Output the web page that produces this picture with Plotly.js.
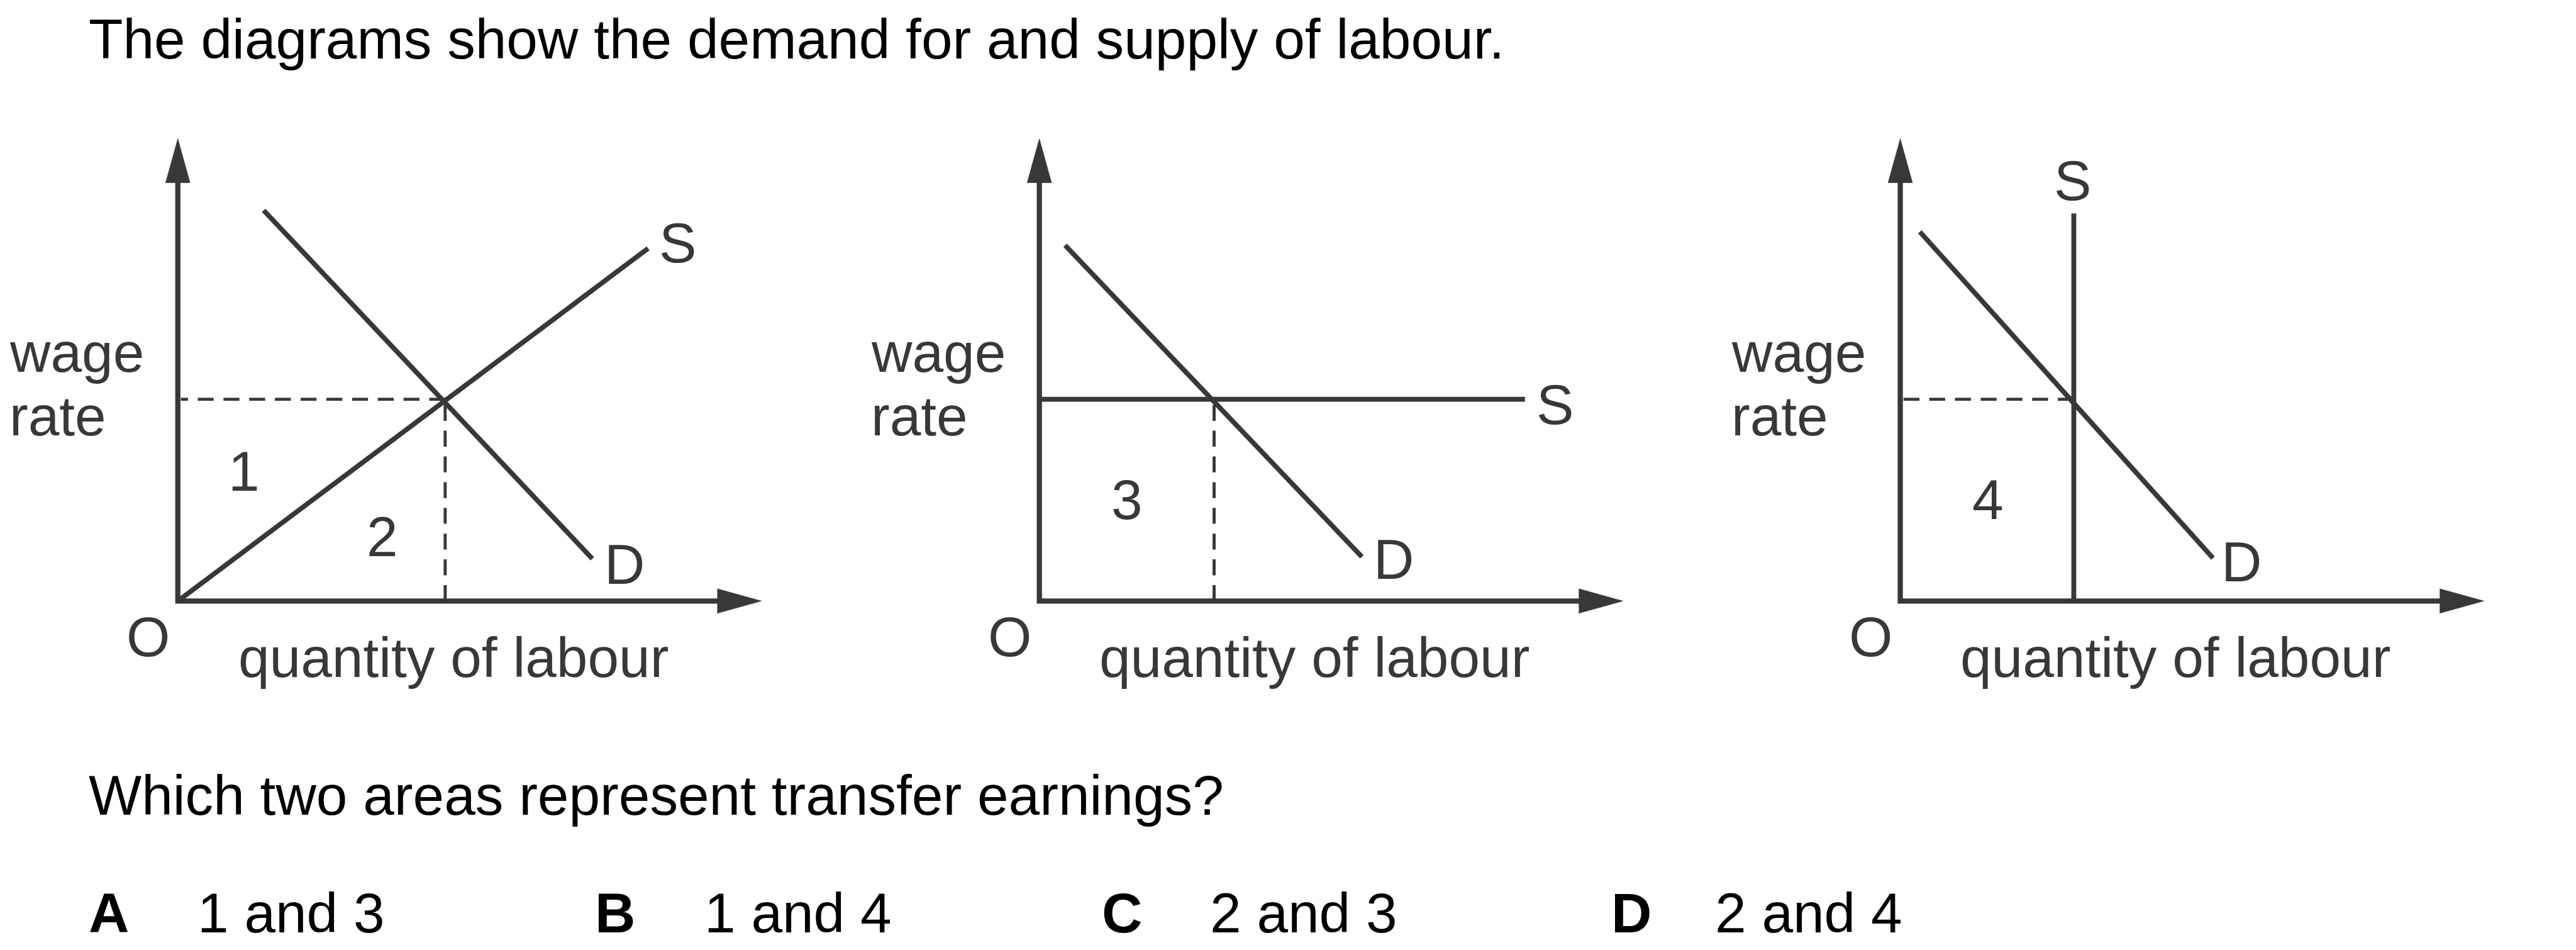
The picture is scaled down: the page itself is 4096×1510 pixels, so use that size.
<!DOCTYPE html>
<html>
<head>
<meta charset="utf-8">
<script src="https://cdn.plot.ly/plotly-3.0.1.min.js"></script>
<style>
  html, body { margin: 0; padding: 0; background: #ffffff; }
  #chart { width: 4096px; height: 1510px; }
</style>
</head>
<body>
<div id="chart"></div>
<script>
// ---------------- text ----------------
const titleText = 'The diagrams show the demand for and supply of labour.';
const questionText = 'Which two areas represent transfer earnings?';
const optionLetters = ['A', 'B', 'C', 'D'];
const optionTexts = ['1 and 3', '1 and 4', '2 and 3', '2 and 4'];
const axisYLabel = ['wage', 'rate'];
const axisXLabel = 'quantity of labour';
const originLabel = 'O';
const areaLabels = ['1', '2', '3', '4'];

// ---------------- data (units: quantity of labour / wage rate) ----------------
const axisQMax = 9.52;   // end of quantity axis (arrow tip)
const axisWMax = 7.54;   // end of wage axis (arrow tip)

// Diagram 1: upward sloping supply
const p1DemandQ = [1.40, 6.76];
const p1DemandW = [6.37, 0.69];
const p1SupplyQ = [0.00, 7.67];
const p1SupplyW = [0.00, 5.75];
const p1EqQ = 4.36;
const p1EqW = 3.29;

// Diagram 2: perfectly elastic supply
const p2DemandQ = [0.42, 5.26];
const p2DemandW = [5.80, 0.72];
const p2SupplyQ = [0.00, 7.92];
const p2SupplyW = [3.29, 3.29];
const p2EqQ = 2.85;
const p2EqW = 3.29;

// Diagram 3: perfectly inelastic supply
const p3DemandQ = [0.32, 5.10];
const p3DemandW = [6.02, 0.70];
const p3SupplyQ = [2.83, 2.83];
const p3SupplyW = [0.00, 6.32];
const p3EqQ = 2.83;
const p3EqW = 3.29;

// label anchor positions (in each diagram's units)
const p1LabelS = [8.16, 5.84], p1LabelD = [7.28, 0.60], p1Area1 = [1.08, 2.12], p1Area2 = [3.34, 1.05];
const p2LabelS = [8.41, 3.20], p2LabelD = [5.78, 0.68], p2Area3 = [1.43, 1.65];
const p3LabelS = [2.82, 6.86], p3LabelD = [5.56, 0.64], p3Area4 = [1.43, 1.65];
const originPos = [-0.48, -0.58];
const wagePos = [-2.77, 4.06];
const ratePos = [-2.77, 3.02];
const qtyPos = [4.49, -0.92];

// ---------------- style ----------------
const S = 0.975;                 // global scale
const FONT = 'Liberation Sans, Arial, Helvetica, sans-serif';
const INK = '#383838';
const FS = 91.5 * S;
const AXIS_W = 8.5 * S;
const CURVE_W = 8 * S;
const DASH_W = 5 * S;
const DASH = (26 * S).toFixed(1) + 'px,' + (16 * S).toFixed(1) + 'px';
const HEAD_LEN = 0.72;
const HEAD_HALF = 0.20;

const REF_W = 4201, REF_H = 1549;
// panel frames in reference pixels
const panels = [
  { xa: 'x',  ya: 'y',  left: 0,    right: 1400, originPx: 290 },
  { xa: 'x2', ya: 'y2', left: 1400, right: 2800, originPx: 1695 },
  { xa: 'x3', ya: 'y3', left: 2800, right: 4200, originPx: 3099 }
];
const frameTopPx = 200, frameBottomPx = 1130, originYPx = 980, unitPx = 100;

const traces = [];
function line(p, xs, ys, width, dash) {
  traces.push({
    type: 'scatter', mode: 'lines', x: xs, y: ys,
    xaxis: p.xa, yaxis: p.ya, hoverinfo: 'skip',
    line: { color: INK, width: width, dash: dash || 'solid' }
  });
}
function poly(p, xs, ys) {
  traces.push({
    type: 'scatter', mode: 'lines', x: xs, y: ys, fill: 'toself',
    fillcolor: INK, xaxis: p.xa, yaxis: p.ya, hoverinfo: 'skip',
    line: { color: INK, width: 0.5 }
  });
}
function axes(p) {
  line(p, [0, 0, axisQMax - HEAD_LEN * 0.6], [axisWMax - HEAD_LEN * 0.6, 0, 0], AXIS_W);
  poly(p, [axisQMax - HEAD_LEN, axisQMax, axisQMax - HEAD_LEN, axisQMax - HEAD_LEN],
          [HEAD_HALF, 0, -HEAD_HALF, HEAD_HALF]);
  poly(p, [-HEAD_HALF, 0, HEAD_HALF, -HEAD_HALF],
          [axisWMax - HEAD_LEN, axisWMax, axisWMax - HEAD_LEN, axisWMax - HEAD_LEN]);
}

const P1 = panels[0], P2 = panels[1], P3 = panels[2];

// Diagram 1
axes(P1);
line(P1, [p1EqQ, 0.05], [p1EqW, p1EqW], DASH_W, DASH);
line(P1, [p1EqQ, p1EqQ], [0, p1EqW], DASH_W, DASH);
line(P1, p1DemandQ, p1DemandW, CURVE_W);
line(P1, p1SupplyQ, p1SupplyW, CURVE_W);

// Diagram 2
axes(P2);
line(P2, [p2EqQ, p2EqQ], [0, p2EqW], DASH_W, DASH);
line(P2, p2DemandQ, p2DemandW, CURVE_W);
line(P2, p2SupplyQ, p2SupplyW, CURVE_W);

// Diagram 3
axes(P3);
line(P3, [p3EqQ, 0.05], [p3EqW, p3EqW], DASH_W, DASH);
line(P3, p3DemandQ, p3DemandW, CURVE_W);
line(P3, p3SupplyQ, p3SupplyW, CURVE_W);

// ---------------- annotations ----------------
const annotations = [];
function label(p, pos, text, xanchor) {
  annotations.push({
    xref: p.xa, yref: p.ya, x: pos[0], y: pos[1], text: text,
    showarrow: false, xanchor: xanchor || 'center', yanchor: 'middle',
    font: { family: FONT, size: FS, color: INK }
  });
}
function paperText(xPx, yPx, text, bold, xanchor) {
  annotations.push({
    xref: 'paper', yref: 'paper', x: xPx / REF_W, y: 1 - yPx / REF_H,
    text: bold ? '<b>' + text + '</b>' : text,
    showarrow: false, xanchor: xanchor || 'left', yanchor: 'middle',
    font: { family: FONT, size: FS, color: '#000000' }
  });
}

panels.forEach(function (p) {
  label(p, originPos, originLabel);
  label(p, wagePos, axisYLabel[0], 'left');
  label(p, ratePos, axisYLabel[1], 'left');
  label(p, qtyPos, axisXLabel);
});
label(P1, p1LabelS, 'S'); label(P1, p1LabelD, 'D');
label(P1, p1Area1, areaLabels[0]); label(P1, p1Area2, areaLabels[1]);
label(P2, p2LabelS, 'S'); label(P2, p2LabelD, 'D'); label(P2, p2Area3, areaLabels[2]);
label(P3, p3LabelS, 'S'); label(P3, p3LabelD, 'D'); label(P3, p3Area4, areaLabels[3]);

paperText(143, 64, titleText, false);
paperText(143, 1297, questionText, false);
const letterX = [143, 968, 1795, 2626];
const optX = [320, 1147, 1971, 2795];
for (let i = 0; i < optionLetters.length; i++) {
  paperText(letterX[i], 1488, optionLetters[i], true);
  paperText(optX[i], 1488, optionTexts[i], false);
}

// ---------------- layout ----------------
const layout = {
  width: 4096, height: 1510,
  margin: { l: 0, r: 0, t: 0, b: 0, pad: 0 },
  paper_bgcolor: '#ffffff', plot_bgcolor: 'rgba(0,0,0,0)',
  showlegend: false,
  annotations: annotations
};
panels.forEach(function (p, i) {
  const sfx = i === 0 ? '' : String(i + 1);
  const xr = [(p.left - p.originPx) / unitPx, (p.right - p.originPx) / unitPx];
  const yr = [(originYPx - frameBottomPx) / unitPx, (originYPx - frameTopPx) / unitPx];
  layout['xaxis' + sfx] = {
    domain: [p.left / REF_W, p.right / REF_W], range: xr, visible: false,
    showgrid: false, zeroline: false, fixedrange: true, anchor: 'y' + sfx
  };
  layout['yaxis' + sfx] = {
    domain: [1 - frameBottomPx / REF_H, 1 - frameTopPx / REF_H], range: yr, visible: false,
    showgrid: false, zeroline: false, fixedrange: true, anchor: 'x' + sfx
  };
});

Plotly.newPlot('chart', traces, layout, { staticPlot: true, displayModeBar: false });
</script>
</body>
</html>
